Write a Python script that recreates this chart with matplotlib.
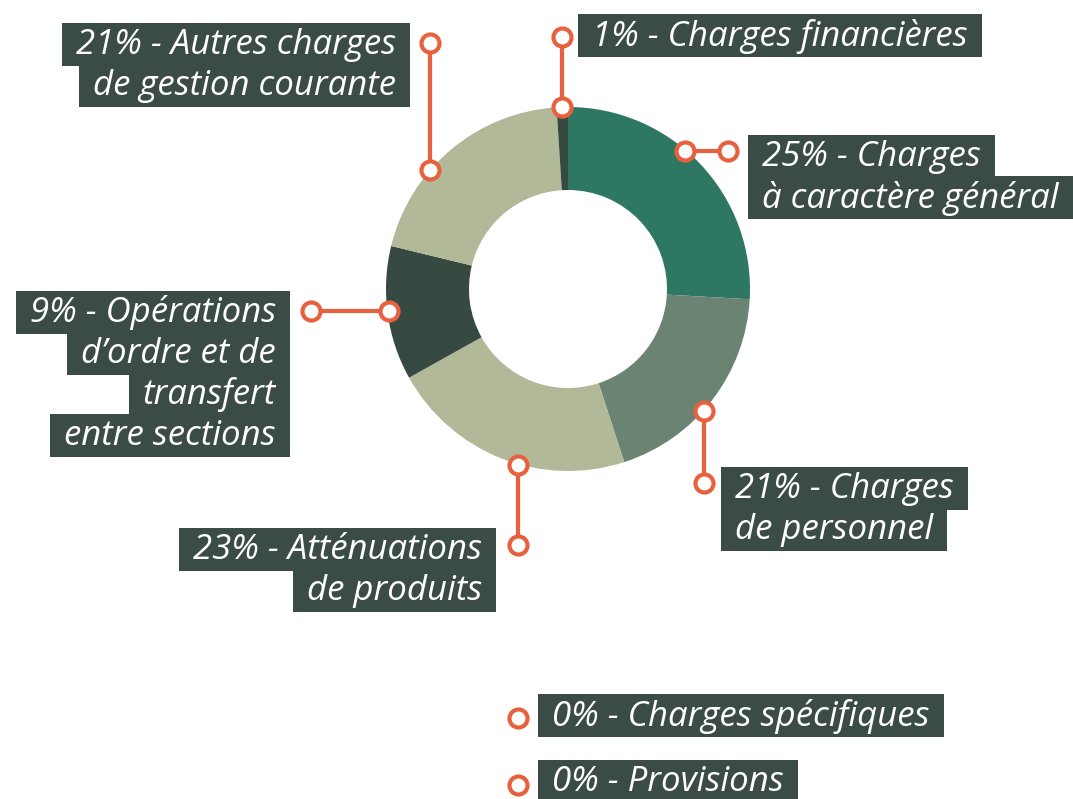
import matplotlib.pyplot as plt
from matplotlib.patches import Rectangle

# données
slice_values = [25.9, 19.1, 21.9, 11.9, 20.2, 1.0]
slice_colors = ['#2e7762', '#6b8373', '#b2b998', '#374a42', '#b2b998', '#374a42']
percents = [25, 21, 23, 9, 21, 1, 0, 0]
label_lines = [
    ["Charges", "à caractère général"],
    ["Charges", "de personnel"],
    ["Atténuations", "de produits"],
    ["Opérations", "d’ordre et de", "transfert", "entre sections"],
    ["Autres charges", "de gestion courante"],
    ["Charges financières"],
    ["Charges spécifiques"],
    ["Provisions"],
]

# mise en page (pixels)
text_pos = [(762, 157, 'left'), (735, 489, 'left'), (482, 550, 'right'),
            (276, 313, 'right'), (396, 45, 'right'), (592, 36, 'left'),
            (552, 716, 'left'), (552, 782, 'left')]
connectors = [[(685, 151), (728, 151)], [(704, 411), (704, 483)],
              [(518, 465), (518, 545)], [(311, 311), (389, 311)],
              [(430, 43), (430, 170)], [(562, 37), (562, 107)],
              [(518, 718)], [(518, 785)]]

orange = '#e8613f'
box_color = '#3a4c45'
line_h = 41

fig = plt.figure(figsize=(10.73, 7.99), dpi=100)
ax = fig.add_axes([0, 0, 1, 1])

ax.pie(slice_values, colors=slice_colors, center=(568, 289), radius=182,
       startangle=-90, counterclock=True,
       wedgeprops=dict(width=83, linewidth=0))
ax.set_xlim(0, 1073)
ax.set_ylim(799, 0)
ax.set_aspect('equal')
ax.axis('off')

texts = []
for p, lines, (x, y, ha) in zip(percents, label_lines, text_pos):
    for i, line in enumerate(lines):
        s = f"{p}% - {line}" if i == 0 else line
        t = ax.text(x, y + i * line_h, s, ha=ha, va='center', color='white',
                    fontsize=25, fontstyle='italic', family=['Open Sans', 'DejaVu Sans'],
                    zorder=5)
        texts.append((t, y + i * line_h))

fig.canvas.draw()
inv = ax.transData.inverted()
for t, yc in texts:
    bb = t.get_window_extent()
    (x0, _), (x1, _) = inv.transform([(bb.x0, bb.y0), (bb.x1, bb.y1)])
    ax.add_patch(Rectangle((x0 - 14, yc - 22), (x1 - x0) + 28, 43,
                           facecolor=box_color, edgecolor='none', zorder=4))

for pts in connectors:
    xs = [p[0] for p in pts]
    ys = [p[1] for p in pts]
    if len(pts) > 1:
        ax.plot(xs, ys, color=orange, lw=3, zorder=6)
    ax.plot(xs, ys, 'o', ms=13, mfc='white', mec=orange, mew=3, zorder=7, ls='none')

fig.savefig('out.png', dpi=100)
